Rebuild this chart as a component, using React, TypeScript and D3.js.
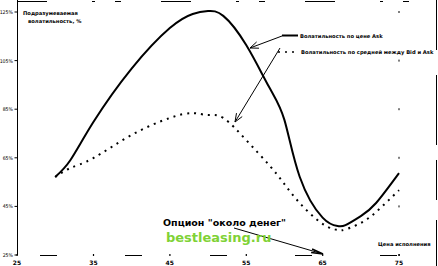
import React from "react";
import * as d3 from "d3";

const strikes = [30, 32, 35, 40, 45, 48, 50, 52, 55, 58, 60, 62, 65, 67, 68, 70, 72, 75];
const askVol = [57.1, 64.1, 79.7, 101.7, 118.4, 124.2, 125.4, 123.4, 111.4, 94.1, 80.6, 57.2, 40.4, 36.9, 37.3, 41, 46.4, 58.7];
const midVol = [57.1, 60.8, 64.9, 74.4, 81.4, 83.4, 82.6, 81.4, 72.3, 62, 54.2, 46.4, 37.8, 35.3, 35.5, 38.2, 42.7, 51.7];
const xTicks = [25, 35, 45, 55, 65, 75];
const yTicks = [25, 45, 65, 85, 105, 125];
const legendAsk = "Волатильность по цене Ask";
const legendMid = "Волатильность по средней между Bid и Ask";
const yTitle1 = "Подразумеваемая";
const yTitle2 = "волатильность, %";
const xTitle = "Цена исполнения";
const noteText = "Опцион \"около денег\"";
const watermark = "bestleasing.ru";

const W = 438;
const H = 266;

function arrowHead(x1: number, y1: number, x2: number, y2: number, len = 9, spread = 0.38) {
  const a = Math.atan2(y2 - y1, x2 - x1);
  const p1 = [x2 - len * Math.cos(a - spread), y2 - len * Math.sin(a - spread)];
  const p2 = [x2 - len * Math.cos(a + spread), y2 - len * Math.sin(a + spread)];
  return `M${p1[0]},${p1[1]}L${x2},${y2}L${p2[0]},${p2[1]}`;
}

export default function App() {
  const x = d3.scaleLinear().domain([25, 75]).range([17, 399]);
  const y = d3.scaleLinear().domain([25, 125]).range([255, 12]);
  const line = d3
    .line<number>()
    .x((_, i) => x(strikes[i]))
    .y((d) => y(d))
    .curve(d3.curveNatural);
  const font = "'DejaVu Sans', sans-serif";
  const narrow = "'Liberation Sans Narrow', 'DejaVu Sans Condensed', sans-serif";

  return (
    <svg
      width={W}
      height={H}
      style={{ position: "absolute", left: 0, top: 0, background: "#fff" }}
      fontFamily={font}
    >
      <rect x={0} y={0} width={W} height={H} fill="#fff" />
      {/* frame */}
      <line x1={17} y1={1.5} x2={436} y2={1.5} stroke="#000" strokeWidth={1} strokeDasharray="30 45 3 20 6 40" />
      <line x1={436.5} y1={0} x2={436.5} y2={H} stroke="#000" strokeWidth={1} strokeDasharray="50 25 70 15 40 20" />
      {/* left axis */}
      <line x1={17.5} y1={0} x2={17.5} y2={255} stroke="#000" strokeWidth={1} />
      {yTicks.map((t) => (
        <g key={t}>
          <line x1={14.5} x2={17.5} y1={y(t)} y2={y(t)} stroke="#000" strokeWidth={1} />
          <text
            x={13}
            y={y(t) + 2}
            fontSize={5.2}
            fontFamily={narrow}
            textAnchor="end"
            fill="#000"
          >
            {t}%
          </text>
          <rect x={x(75) - 0.5} y={y(t) - 1} width={1} height={2} fill="#000" />
        </g>
      ))}
      {/* bottom axis (faded) */}
      <line x1={40} y1={255.5} x2={436} y2={255.5} stroke="#000" strokeWidth={1} strokeDasharray="17 68" />
      {xTicks.map((t) => (
        <g key={t}>
          <rect x={x(t) - 0.5} y={254} width={1.2} height={2} fill="#000" />
          <text x={x(t)} y={265} fontSize={6} textAnchor="middle" fill="#000" fontWeight="bold">
            {t}
          </text>
        </g>
      ))}
      {/* axis titles */}
      <text x={23} y={15} fontSize={5.2} fill="#000" fontWeight="bold">
        {yTitle1}
      </text>
      <text x={28} y={23} fontSize={5.2} fill="#000" fontWeight="bold">
        {yTitle2}
      </text>
      <text x={378} y={246} fontSize={5.2} fill="#000" fontWeight="bold">
        {xTitle}
      </text>
      {/* curves */}
      <path d={line(askVol) || ""} fill="none" stroke="#000" strokeWidth={2} />
      <path
        d={line(midVol) || ""}
        fill="none"
        stroke="#000"
        strokeWidth={2}
        strokeDasharray="2 5"
      />
      {/* legend */}
      <line x1={282} y1={35.5} x2={298} y2={35.5} stroke="#000" strokeWidth={2} />
      <text x={300} y={37.5} fontSize={5.2} fill="#000" fontWeight="bold">
        {legendAsk}
      </text>
      <line x1={278} y1={52} x2={298} y2={52} stroke="#000" strokeWidth={1.6} strokeDasharray="2 5" />
      <text x={301} y={54} fontSize={5.2} fill="#000" fontWeight="bold">
        {legendMid}
      </text>
      {/* legend arrows */}
      <line x1={282} y1={36} x2={250} y2={48} stroke="#000" strokeWidth={1} />
      <path d={arrowHead(282, 36, 250, 48)} fill="none" stroke="#000" strokeWidth={1} />
      <line x1={280} y1={48} x2={235} y2={122} stroke="#000" strokeWidth={1} />
      <path d={arrowHead(280, 48, 235, 122)} fill="none" stroke="#000" strokeWidth={1} />
      {/* note */}
      <text x={163} y={226} fontSize={9.5} fontWeight="bold" fill="#000">
        {noteText}
      </text>
      <line x1={234} y1={228} x2={323} y2={254} stroke="#000" strokeWidth={1} />
      <path d={arrowHead(234, 228, 323, 254, 12, 0.15)} fill="none" stroke="#000" strokeWidth={1.5} />
      <text x={166} y={242} fontSize={13} fontWeight="bold" fill="#7fd236">
        {watermark}
      </text>
    </svg>
  );
}
